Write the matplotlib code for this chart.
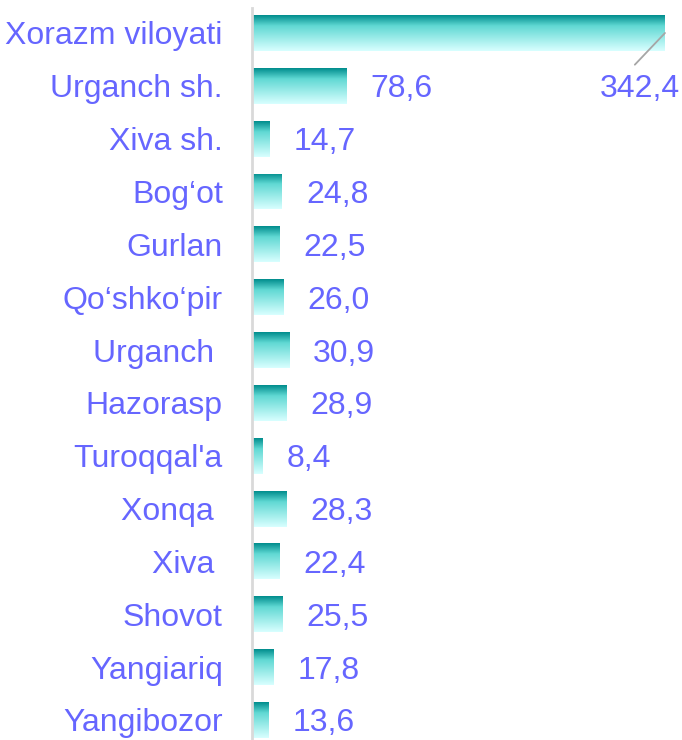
import matplotlib
matplotlib.use("Agg")
import matplotlib.pyplot as plt
import numpy as np
from matplotlib.colors import LinearSegmentedColormap

categories = ["Xorazm viloyati", "Urganch sh.", "Xiva sh.", "Bog\u2018ot", "Gurlan",
              "Qo\u2018shko\u2018pir", "Urganch ", "Hazorasp", "Turoqqal'a", "Xonqa ",
              "Xiva ", "Shovot", "Yangiariq", "Yangibozor"]
values = [342.4, 78.6, 14.7, 24.8, 22.5, 26.0, 30.9, 28.9, 8.4, 28.3, 22.4, 25.5, 17.8, 13.6]
value_labels = ["342,4", "78,6", "14,7", "24,8", "22,5", "26,0", "30,9", "28,9", "8,4",
                "28,3", "22,4", "25,5", "17,8", "13,6"]

W, H = 682, 740
DPI = 100
fig = plt.figure(figsize=(W / DPI, H / DPI), dpi=DPI)
ax_left = 252 / W
ax = fig.add_axes([ax_left, 0, 1 - ax_left, 1 - 8 / H])

txt_color = "#6666FF"
font = "Liberation Sans"
fs = 23

y = np.arange(len(categories))
bars = ax.barh(y, values, height=0.68, color="none", edgecolor="none")

cmap = LinearSegmentedColormap.from_list(
    "g", [(0.0, (0.0, 0.55, 0.55)), (0.3, (0.38, 0.85, 0.83)), (1.0, (0.85, 1.0, 1.0))])
grad = np.linspace(0, 1, 256).reshape(-1, 1)
for b in bars:
    x0, y0 = b.get_x(), b.get_y()
    w, h = b.get_width(), b.get_height()
    im = ax.imshow(grad, cmap=cmap, aspect="auto", extent=(x0, x0 + w, y0 + h, y0),
                   origin="upper", interpolation="bilinear", zorder=2)
    im.set_clip_path(b)

ax.set_xlim(0, 356.5)
ax.set_ylim(13.38, -0.473)

ax.set_yticks(y)
ax.set_yticklabels(categories, fontsize=fs, color=txt_color, family=font)
for t in ax.get_yticklabels():
    t.set_verticalalignment("center_baseline")
ax.tick_params(axis="y", length=0, pad=21)
ax.set_xticks([])
for s in ["top", "right", "bottom"]:
    ax.spines[s].set_visible(False)
ax.spines["left"].set_color("#D9D9D9")
ax.spines["left"].set_linewidth(2)
ax.spines["left"].set_zorder(5)

px_per_unit = (665 - 252) / 342.4
off = 24 / px_per_unit
for i, (v, lab) in enumerate(zip(values, value_labels)):
    if i == 0:
        ax.annotate("", xy=(v, 0.0), xytext=(v - 25, 0.6),
                    arrowprops=dict(arrowstyle="-", color="#A6A6A6", lw=1.3,
                                    shrinkA=0, shrinkB=0), zorder=4)
        ax.text(v - 20.5, 1.0, lab, fontsize=fs, color=txt_color, family=font,
                ha="center", va="center_baseline")
    else:
        ax.text(v + off, i, lab, fontsize=fs, color=txt_color, family=font,
                ha="left", va="center_baseline")

fig.savefig("out.png", dpi=DPI)
